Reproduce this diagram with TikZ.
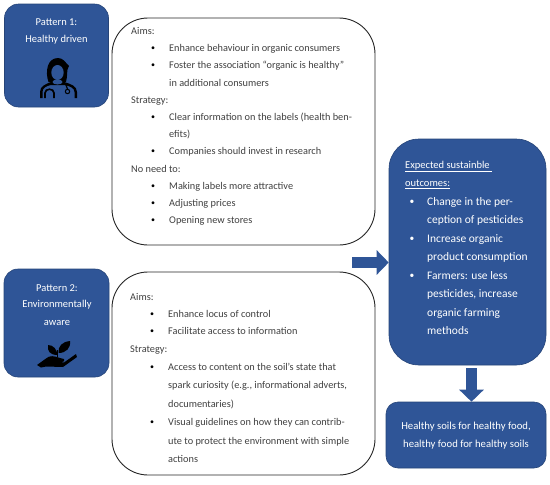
\documentclass[tikz,border=0pt]{standalone}
\usepackage{fontspec}
\setmainfont{Carlito}
\usepackage{xcolor}
\usetikzlibrary{arrows.meta}
\definecolor{boxblue}{HTML}{2F5597}
\definecolor{edgeblue}{HTML}{264478}
\definecolor{bodygray}{HTML}{404040}
\tikzset{
  blue box/.style={draw=edgeblue,fill=boxblue,line width=0.6pt,inner sep=0pt},
  white box/.style={draw=black!85,fill=white,line width=0.9pt,inner sep=0pt},
  body line/.style={anchor=base west,inner sep=0pt,text=bodygray,font=\fontsize{10.3}{12}\selectfont},
  body dot/.style={body line,text=black,yshift=0.8pt,font=\fontsize{8}{10}\selectfont},
  blue line/.style={anchor=base west,inner sep=0pt,text=white,font=\fontsize{11.5}{13}\selectfont},
  blue dot/.style={blue line,yshift=0.5pt,font=\fontsize{9.5}{11}\selectfont},
  head line/.style={blue line,font=\fontsize{10.5}{12}\selectfont},
  title line/.style={inner sep=0pt,text=white,font=\fontsize{10.5}{12}\selectfont},
  block arrow/.style={draw=boxblue,line width=11pt,-{Triangle[length=12pt,width=24pt]}},
}
\begin{document}
\begin{tikzpicture}[x=1pt,y=-1pt]
	\useasboundingbox (0,0) rectangle (550,485);
	\node[blue box,rounded corners=14pt,minimum width=104pt,minimum height=103pt] (pattern1) at (56.5,55.5) {};
	\node[blue box,rounded corners=14pt,minimum width=105pt,minimum height=108pt] (pattern2) at (56.5,323) {};
	\node[white box,rounded corners=36pt,minimum width=263pt,minimum height=227pt] (box1) at (243.5,131.5) {};
	\node[white box,rounded corners=36pt,minimum width=263pt,minimum height=203pt] (box2) at (243.5,373.5) {};
	\node[blue box,rounded corners=30pt,minimum width=157pt,minimum height=226pt] (outcomes) at (467.5,252) {};
	\node[blue box,rounded corners=12pt,minimum width=160pt,minimum height=66pt] (result) at (466,435) {};
	% arrows
	\coordinate (from1) at (352,262.5);
	\coordinate (to1) at (outcomes.west |- from1);
	\coordinate (from2) at (471.5,368);
	\coordinate (to2) at (result.north -| from2);
	\draw[block arrow] (from1) -- (to1);
	\draw[block arrow] (from2) -- (to2);
	% pattern titles
	\node[title line] (p1a) at (56.5,22) {Pattern 1:};
	\node[title line] (p1b) at (56.5,39.5) {Healthy driven};
	\node[title line] (p2a) at (57,288) {Pattern 2:};
	\node[title line] (p2b) at (57,305) {Environmentally};
	\node[title line] (p2c) at (57,323) {aware};
	% doctor icon
	\fill[black] (40,98) -- (40,92) .. controls (40,86) and (46,84) .. (51,82) -- (64,82) .. controls (71,84) and (77,86) .. (77,92) -- (77,98) -- (74.5,98) -- (74.5,92) .. controls (74.5,88) and (70,86) .. (64,85) -- (51,85) .. controls (46,86) and (42.5,88) .. (42.5,92) -- (42.5,98) -- cycle;
	\fill[black] (48.5,82) .. controls (45,72) and (47,58) .. (58,58) .. controls (63,58) and (65,62) .. (69,66) .. controls (66,70) and (68,76) .. (66,82) -- cycle;
	\fill[boxblue] (57.5,72.5) ellipse (6.2pt and 7.5pt);
	\fill[boxblue] (57.5,82) ellipse (5pt and 2.5pt);
	\draw[black,line width=1.6pt] (45,98) -- (45,93) .. controls (45,88) and (54,88) .. (54,93) -- (54,98);
	\draw[black,line width=1.2pt] (66,85) -- (67.5,89);
	\draw[black,line width=1pt] (67.5,91.5) circle (2.2pt);
	% plant icon
	\fill[black] (37,365) -- (46,358.5) .. controls (50,355) and (54,356) .. (60,358) -- (64,359) .. controls (65,361) and (64,362) .. (62,362) -- (56,362) -- (64,362.5) -- (76,354) -- (77,357) -- (63,367) -- (46,366.5) -- (41,367.5) -- cycle;
	\fill[black] (57.5,355) .. controls (50,355) and (47,351) .. (48,345) .. controls (53,345) and (57,349) .. (57.5,355) -- cycle;
	\fill[black] (58.5,353) .. controls (58,346) and (62,342) .. (70,341) .. controls (71,348) and (66,353) .. (58.5,353) -- cycle;
	\draw[black,line width=0.8pt] (57.5,350) -- (57.5,357);
	% first list
	\node[body line] (a1) at (131,34.5) {Aims:};
	\node[body dot] (a2) at (151,51.5) {•};
	\node[body line] (a3) at (169,51.5) {Enhance behaviour in organic consumers};
	\node[body dot] (a4) at (151,68.5) {•};
	\node[body line] (a5) at (169,68.5) {Foster the association “organic is healthy”};
	\node[body line] (a6) at (169,86) {in additional consumers};
	\node[body line] (a7) at (131,103) {Strategy:};
	\node[body dot] (a8) at (151,120.5) {•};
	\node[body line] (a9) at (169,120.5) {Clear information on the labels (health ben-};
	\node[body line] (a10) at (169,137.5) {efits)};
	\node[body dot] (a11) at (151,154.5) {•};
	\node[body line] (a12) at (169,154.5) {Companies should invest in research};
	\node[body line] (a13) at (131,172) {No need to:};
	\node[body dot] (a14) at (151,189.5) {•};
	\node[body line] (a15) at (169,189.5) {Making labels more attractive};
	\node[body dot] (a16) at (151,206.5) {•};
	\node[body line] (a17) at (169,206.5) {Adjusting prices};
	\node[body dot] (a18) at (151,223.5) {•};
	\node[body line] (a19) at (169,223.5) {Opening new stores};
	% second list
	\node[body line] (b1) at (130,300.5) {Aims:};
	\node[body dot] (b2) at (150,317.5) {•};
	\node[body line] (b3) at (168,317.5) {Enhance locus of control};
	\node[body dot] (b4) at (150,334.5) {•};
	\node[body line] (b5) at (168,334.5) {Facilitate access to information};
	\node[body line] (b6) at (130,352.5) {Strategy:};
	\node[body dot] (b7) at (150,370) {•};
	\node[body line] (b8) at (168,370) {Access to content on the soil’s state that};
	\node[body line] (b9) at (168,388.5) {spark curiosity (e.g., informational adverts,};
	\node[body line] (b10) at (168,407) {documentaries)};
	\node[body dot] (b11) at (150,425.5) {•};
	\node[body line] (b12) at (168,425.5) {Visual guidelines on how they can contrib-};
	\node[body line] (b13) at (168,444) {ute to protect the environment with simple};
	\node[body line] (b14) at (168,462.5) {actions};
	% outcomes
	\node[head line] (c1) at (405,168.5) {\underline{Expected sustainble~}};
	\node[head line] (c2) at (405,186.5) {\underline{outcomes:}};
	\node[blue dot] (c3) at (409.5,205) {•};
	\node[blue line] (c4) at (427,205) {Change in the per-};
	\node[blue line] (c5) at (427,223) {ception of pesticides};
	\node[blue dot] (c6) at (409.5,242) {•};
	\node[blue line] (c7) at (427,242) {Increase organic};
	\node[blue line] (c8) at (427,260) {product consumption};
	\node[blue dot] (c9) at (409.5,279) {•};
	\node[blue line] (c10) at (427,279) {Farmers: use less};
	\node[blue line] (c11) at (427,297) {pesticides, increase};
	\node[blue line] (c12) at (427,316) {organic farming};
	\node[blue line] (c13) at (427,334) {methods};
	% result
	\node[title line,font=\fontsize{10.7}{12}\selectfont] (d1) at (466,427) {Healthy soils for healthy food,};
	\node[title line,font=\fontsize{10.7}{12}\selectfont] (d2) at (466,444.5) {healthy food for healthy soils};
\end{tikzpicture}
\end{document}
